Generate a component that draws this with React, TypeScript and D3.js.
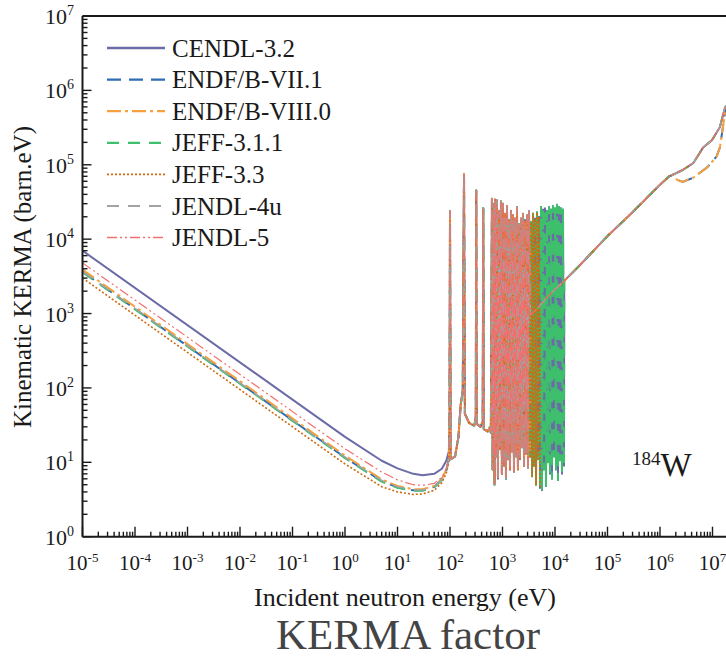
import React from 'react';
import * as d3 from 'd3';

type Pt = [number, number];

const W = 726;
const H = 660;
const plotLeft = 82.5;
const plotTop = 16;
const plotBottom = 536.7;

const libraries = ['CENDL-3.2', 'ENDF/B-VII.1', 'ENDF/B-VIII.0', 'JEFF-3.1.1', 'JEFF-3.3', 'JENDL-4u', 'JENDL-5'];
const colors = ['#6b6ba8', '#2e6cb4', '#f6a03e', '#3dbf6c', '#cd6a12', '#a3a3a3', '#f26f6f'];
const dashes = ['none', '14,8', '14,4,3,4', '12,9', '2,2', '12,9', '10,3,2,3,2,3'];
const widths = [2, 2, 2, 2, 1.6, 1.5, 1.2];

// thermal and 1/v range, read per library (eV, barn.eV)
const cendlLow: Pt[] = [[1e-5, 7000], [1, 22], [5, 10.5], [10, 8.3], [20, 7.0], [30, 6.7], [50, 7.0], [70, 8.2], [85, 10.5], [95, 14]];
const endf71Low: Pt[] = [[1e-5, 3650], [1, 11.6], [5, 5.6], [10, 4.6], [20, 4.2], [30, 4.2], [50, 4.7], [70, 5.9], [85, 7.8], [95, 11]];
const endf80Low: Pt[] = [[1e-5, 3900], [1, 12.3], [5, 5.9], [10, 4.8], [20, 4.35], [30, 4.35], [50, 4.8], [70, 6.0], [85, 8.0], [95, 11]];
const jeff311Low: Pt[] = [[1e-5, 3600], [1, 11.4], [5, 5.5], [10, 4.55], [20, 4.15], [30, 4.15], [50, 4.6], [70, 5.8], [85, 7.7], [95, 11]];
const jeff33Low: Pt[] = [[1e-5, 3000], [1, 9.5], [5, 4.7], [10, 4.0], [20, 3.7], [30, 3.75], [50, 4.2], [70, 5.3], [85, 7.2], [95, 10]];
const jendl4Low: Pt[] = [[1e-5, 3700], [1, 11.7], [5, 5.7], [10, 4.7], [20, 4.25], [30, 4.25], [50, 4.7], [70, 5.9], [85, 7.8], [95, 11]];
const jendl5Low: Pt[] = [[1e-5, 4800], [1, 15.2], [5, 7.4], [10, 5.8], [20, 5.0], [30, 4.9], [50, 5.2], [70, 6.3], [85, 8.2], [95, 11]];

// upper end of the resolved resonance range of each library (eV)
const resolvedEnds = [15000, 4000, 4000, 15000, 5200, 3300, 3300];

// resolved resonances (shared shape)
const resonancePoints: Pt[] = [
  [98, 30], [100, 24000], [103, 11], [125, 12], [145, 22], [160, 60], [175, 90], [185, 75000], [192, 45],
  [230, 34], [290, 31], [310, 40], [316, 45000], [322, 33], [380, 30], [420, 35], [430, 26000], [440, 28],
  [520, 26], [580, 30], [600, 25], [630, 35000], [650, 8], [690, 30000], [705, 5], [720, 34000], [750, 12],
  [785, 33000], [820, 6], [855, 24000], [895, 15], [935, 32000], [975, 7], [1020, 30000], [1070, 9],
  [1115, 22000], [1165, 6], [1220, 28000], [1270, 11], [1330, 18000], [1390, 8], [1450, 24000], [1515, 14],
  [1585, 21000], [1655, 7.5], [1730, 19000], [1810, 12], [1890, 27000], [1970, 8], [2060, 16000], [2150, 11],
  [2250, 19000], [2350, 16], [2460, 22000], [2570, 9], [2680, 18000], [2800, 13], [2930, 21000], [3060, 8.5],
  [3200, 24000], [3340, 12], [3490, 17000], [3650, 6.5], [3810, 22000], [3980, 9], [4160, 19000], [4350, 5],
  [4540, 23000], [4740, 11], [4960, 20000], [5180, 4.5], [5410, 27000], [5650, 4.2], [5910, 25000], [6170, 8],
  [6450, 26000], [6740, 4.8], [7040, 24000], [7360, 10], [7690, 27000], [8030, 7], [8390, 25000], [8770, 6],
  [9160, 28000], [9570, 12], [10000, 26000], [10450, 8], [10920, 29000], [11410, 5.8], [11920, 27000],
  [12450, 10.7], [13010, 26000], [13590, 7], [14200, 25000], [14840, 9],
];

// unresolved and fast range up to the kink near 1.8 MeV
const smoothPoints: Pt[] = [
  [3000, 880], [3400, 960], [4000, 1060], [5200, 1280], [7000, 1650], [10000, 2100], [15000, 2750],
  [30000, 4500], [100000, 11000], [300000, 23000], [1000000, 54000], [1500000, 70000], [1800000, 74000],
];
const mainTail: Pt[] = [[2.7e6, 85000], [4.3e6, 105000], [6.6e6, 170000], [9.8e6, 215000], [1.38e7, 320000], [1.73e7, 590000], [2e7, 650000]];
const endfTail: Pt[] = [[2.1e6, 63000], [2.7e6, 59000], [4.3e6, 67000], [8e6, 93000], [1.2e7, 130000], [1.38e7, 170000], [1.58e7, 320000], [1.73e7, 500000], [2e7, 630000]];

const lows = [cendlLow, endf71Low, endf80Low, jeff311Low, jeff33Low, jendl4Low, jendl5Low];
const tails = [mainTail, endfTail, endfTail, mainTail, mainTail, mainTail, mainTail];

const series = libraries.map((name, i) => ({
  name,
  points: [
    ...lows[i],
    ...resonancePoints.filter(p => p[0] < resolvedEnds[i]),
    ...smoothPoints.filter(p => p[0] >= resolvedEnds[i]),
    ...tails[i],
  ] as Pt[],
}));

const font = "'Liberation Serif', 'Times New Roman', serif";

export default function App() {
  const x = d3.scaleLog().domain([1e-5, 1e7]).range([plotLeft, 712.5]);
  const y = d3.scaleLog().domain([1, 1e7]).range([plotBottom, plotTop]);
  const line = d3.line<Pt>().x(d => x(d[0])).y(d => y(d[1]));

  const isMajor = (t: number) => Math.abs(Math.log10(t) - Math.round(Math.log10(t))) < 1e-9;
  const xTicks = x.ticks(100);
  const yTicks = y.ticks(100);

  return (
    <svg width={W} height={H} style={{ position: 'absolute', left: 0, top: 0, background: '#fff', fontFamily: font }}>
      <defs>
        <clipPath id="plot">
          <rect x={plotLeft} y={plotTop} width={W - plotLeft + 10} height={plotBottom - plotTop} />
        </clipPath>
      </defs>

      <g clipPath="url(#plot)" fill="none" strokeLinejoin="round">
        {series.map((s, i) => (
          <path key={s.name} d={line(s.points) ?? ''} stroke={colors[i]} strokeWidth={widths[i]}
            strokeDasharray={dashes[i]} />
        ))}
      </g>

      {/* frame */}
      <g stroke="#1a1a1a" strokeWidth={2}>
        <line x1={plotLeft} x2={W + 2} y1={plotTop} y2={plotTop} />
        <line x1={plotLeft} x2={plotLeft} y1={plotTop} y2={plotBottom} />
        <line x1={plotLeft} x2={W + 2} y1={plotBottom} y2={plotBottom} />
      </g>

      {/* ticks */}
      <g stroke="#1a1a1a" strokeWidth={1.4}>
        {xTicks.map(t => (
          <line key={t} x1={x(t)} x2={x(t)} y1={plotBottom} y2={plotBottom - (isMajor(t) ? 10 : 5)} />
        ))}
        {yTicks.map(t => (
          <line key={t} x1={plotLeft} x2={plotLeft + (isMajor(t) ? 9 : 5)} y1={y(t)} y2={y(t)} />
        ))}
      </g>

      <g fill="#1a1a1a">
        {xTicks.filter(isMajor).map(t => (
          <text key={t} x={x(t)} y={570} textAnchor="middle" fontSize={21}>
            10<tspan fontSize={13} dy={-8}>{Math.round(Math.log10(t))}</tspan>
          </text>
        ))}
        {yTicks.filter(isMajor).map(t => (
          <text key={t} x={74} y={y(t) + 8} textAnchor="end" fontSize={22}>
            10<tspan fontSize={14} dy={-9}>{Math.round(Math.log10(t))}</tspan>
          </text>
        ))}
      </g>

      {/* legend */}
      <g>
        {libraries.map((name, i) => {
          const ly = 48 + i * 31.6;
          return (
            <g key={name}>
              <line x1={107} x2={165} y1={ly} y2={ly} stroke={colors[i]} strokeWidth={widths[i] + 0.3}
                strokeDasharray={dashes[i]} />
              <text x={172} y={ly + 8.5} fontSize={25} fill="#1a1a1a">{name}</text>
            </g>
          );
        })}
      </g>

      <text x={632} y={476} fill="#1a1a1a">
        <tspan fontSize={19} dy={-11}>184</tspan>
        <tspan fontSize={33} dy={11}>W</tspan>
      </text>

      <text transform="translate(31,277) rotate(-90)" textAnchor="middle" fontSize={25} fill="#1a1a1a">
        Kinematic KERMA (barn.eV)
      </text>
      <text x={405} y={606} textAnchor="middle" fontSize={26} fill="#1a1a1a">
        Incident neutron energy (eV)
      </text>
      <text x={408} y={649} textAnchor="middle" fontSize={43} fill="#444">
        KERMA factor
      </text>
    </svg>
  );
}
